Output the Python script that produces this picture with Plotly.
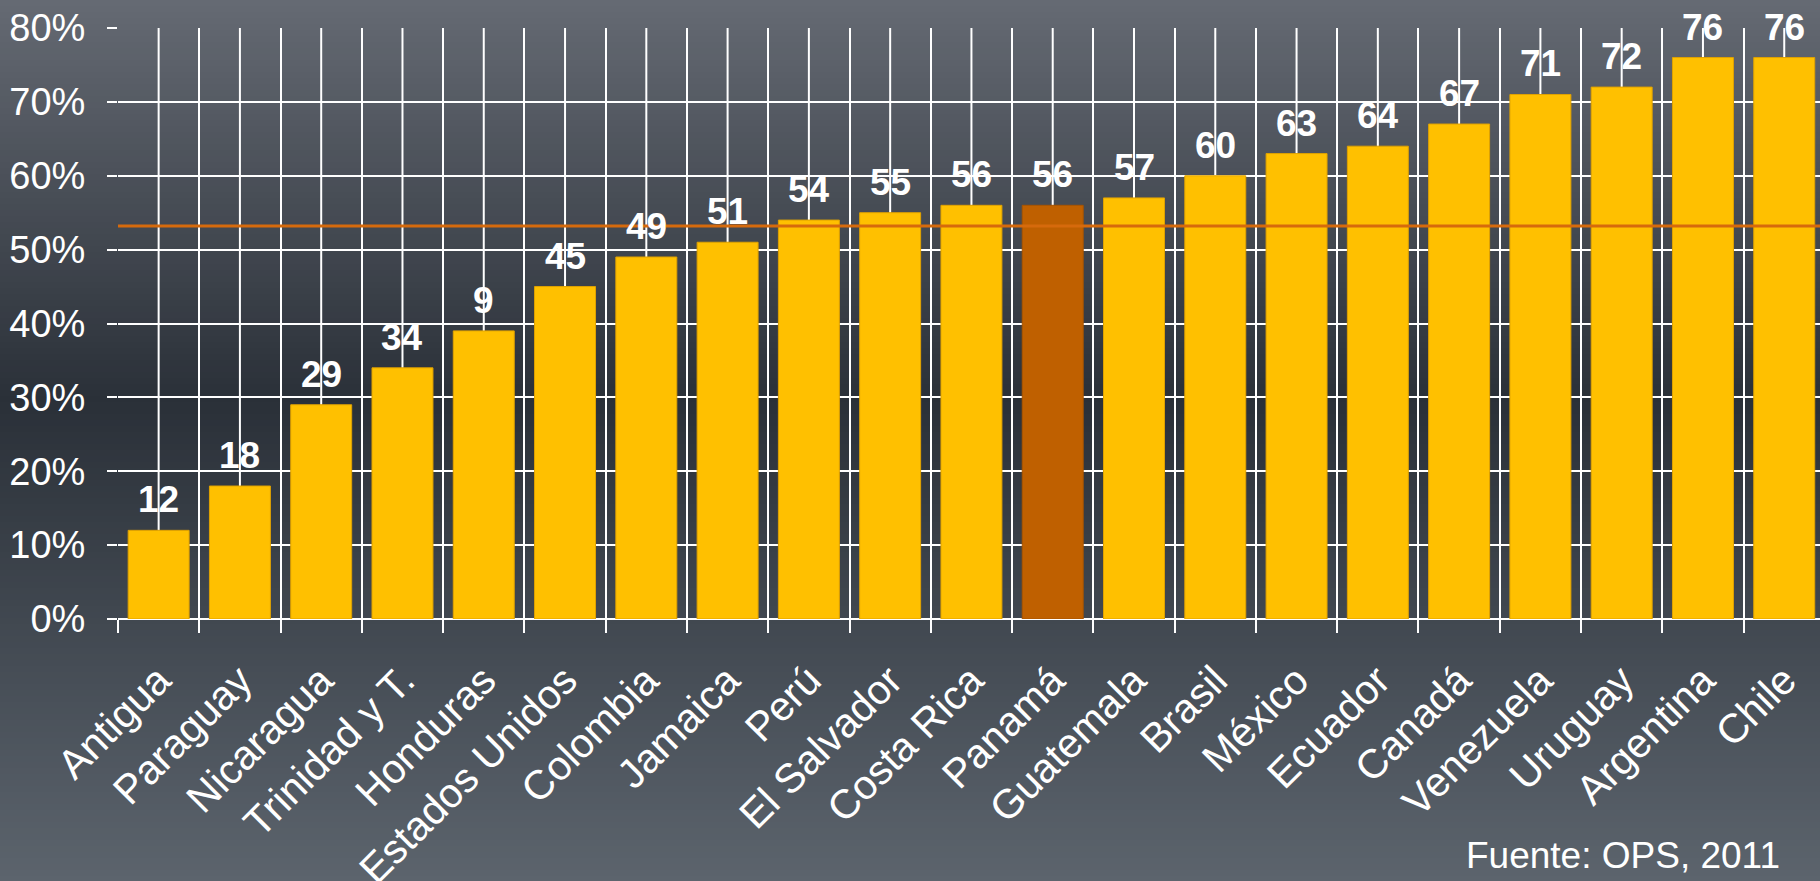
import plotly.graph_objects as go

countries = ["Antigua", "Paraguay", "Nicaragua", "Trinidad y T.", "Honduras",
             "Estados Unidos", "Colombia", "Jamaica", "Perú", "El Salvador",
             "Costa Rica", "Panamá", "Guatemala", "Brasil", "México", "Ecuador",
             "Canadá", "Venezuela", "Uruguay", "Argentina", "Chile"]
values = [12, 18, 29, 34, 39, 45, 49, 51, 54, 55, 56, 56, 57, 60, 63, 64, 67, 71, 72, 76, 76]
value_labels = ["12", "18", "29", "34", "9", "45", "49", "51", "54", "55", "56", "56",
                "57", "60", "63", "64", "67", "71", "72", "76", "76"]
highlight = "Panamá"
average = 53.2
y_ticks = [0, 10, 20, 30, 40, 50, 60, 70, 80]
y_tick_text = ["0%", "10%", "20%", "30%", "40%", "50%", "60%", "70%", "80%"]
source_text = "Fuente: OPS, 2011"

W, H = 1820, 881
M_L, M_R, M_T, M_B = 118, 0, 28, 262
FONT = "Arial, Liberation Sans, sans-serif"

bar_colors = ["#BF6000" if c == highlight else "#FFC000" for c in countries]
bar_lines = ["#A85400" if c == highlight else "#E0A200" for c in countries]

fig = go.Figure()
fig.add_trace(go.Bar(
    x=countries, y=values, width=0.75,
    marker=dict(color=bar_colors, line=dict(color=bar_lines, width=1)),
    hoverinfo="x+y", showlegend=False,
))

shapes = []
# background vertical gradient (page pixel stops -> colour)
stops = [(0, (101, 106, 115)), (400, (42, 48, 56)), (881, (92, 100, 109))]
def col_at(py):
    for (a, ca), (b, cb) in zip(stops[:-1], stops[1:]):
        if a <= py <= b:
            t = (py - a) / (b - a)
            return tuple(int(round(ca[i] + (cb[i] - ca[i]) * t)) for i in range(3))
    return stops[-1][1]
plot_h = H - M_T - M_B
step = 6
for py in range(0, H, step):
    c = col_at(py + step / 2)
    y0 = (H - M_B - (py + step + 1)) / plot_h
    y1 = (H - M_B - py) / plot_h
    shapes.append(dict(type="rect", xref="paper", yref="paper", x0=-0.1, x1=1.1,
                       y0=y0, y1=y1, line=dict(width=0),
                       fillcolor="rgb(%d,%d,%d)" % c, layer="below"))
# gridlines at category centres
for i, _ in enumerate(countries):
    shapes.append(dict(type="line", xref="x", yref="y", x0=i, x1=i, y0=0, y1=max(y_ticks),
                       line=dict(color="white", width=2), layer="below"))
# average line
shapes.append(dict(type="line", xref="paper", yref="y", x0=0, x1=1, y0=average, y1=average,
                   line=dict(color="#D66A0C", width=3), layer="above"))

annotations = []
for c, v, t in zip(countries, values, value_labels):
    annotations.append(dict(x=c, y=v, text=t, showarrow=False, yanchor="bottom",
                            yshift=8, font=dict(family=FONT, size=37, color="white", weight="bold")))
annotations.append(dict(xref="paper", yref="paper", x=(1782 - M_L) / (W - M_L - M_R),
                        y=-(878 - (H - M_B)) / plot_h, xanchor="right", yanchor="bottom",
                        text=source_text, showarrow=False,
                        font=dict(family=FONT, size=37, color="white")))

fig.update_layout(
    width=W, height=H,
    margin=dict(l=M_L, r=M_R, t=M_T, b=M_B, autoexpand=False),
    paper_bgcolor="rgb(60,66,75)", plot_bgcolor="rgba(0,0,0,0)",
    font=dict(family=FONT, color="white"),
    shapes=shapes, annotations=annotations, bargap=0.25,
    xaxis=dict(type="category", range=[-0.5, len(countries) - 0.56],
               tickson="boundaries", ticks="outside", ticklen=13, tickwidth=2, tickcolor="white",
               showgrid=True, gridcolor="white", gridwidth=2,
               tickangle=-45, tickfont=dict(size=41, color="white", family=FONT),
               showline=False, zeroline=False, ticklabelstandoff=28),
    yaxis=dict(range=[0, max(y_ticks)], tickvals=y_ticks, ticktext=y_tick_text,
               ticks="outside", ticklen=10, tickwidth=2, tickcolor="white",
               showgrid=True, gridcolor="white", gridwidth=2,
               zeroline=True, zerolinecolor="white", zerolinewidth=2,
               tickfont=dict(size=38, color="white", family=FONT),
               ticklabelstandoff=14, showline=False),
)

fig.write_html("out.html", config={"displayModeBar": False},
               post_script="document.body.style.margin='0';document.body.style.overflow='hidden';")
